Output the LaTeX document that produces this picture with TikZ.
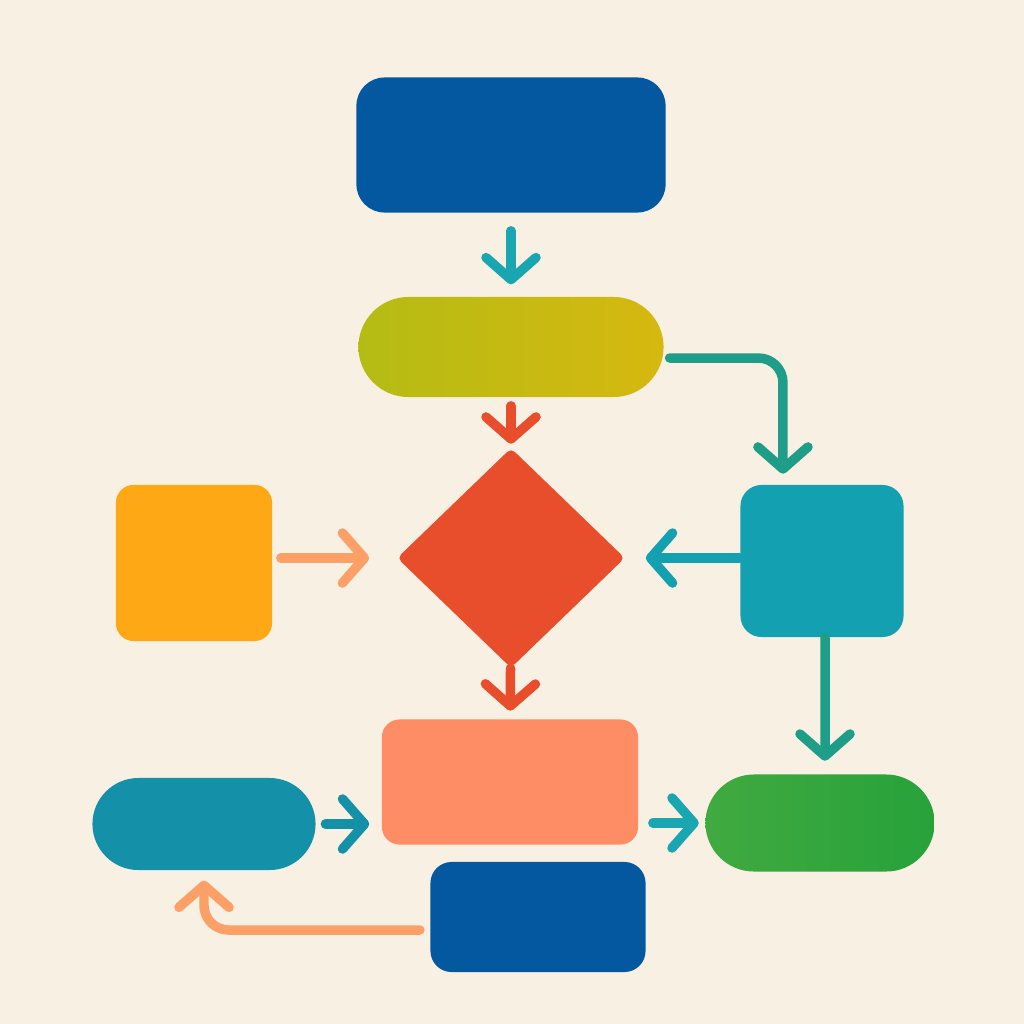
\documentclass[tikz,border=0pt]{standalone}
\usepackage{tikz}
\usetikzlibrary{arrows.meta,positioning,shapes.geometric,shapes.misc}
\definecolor{paper}{RGB}{248,240,227}
\definecolor{deepblue}{RGB}{3,88,160}
\definecolor{olive}{RGB}{180,188,20}
\definecolor{mustard}{RGB}{214,184,16}
\definecolor{tomato}{RGB}{232,78,44}
\definecolor{amber}{RGB}{253,168,20}
\definecolor{tealbox}{RGB}{19,160,176}
\definecolor{salmon}{RGB}{254,140,100}
\definecolor{petrol}{RGB}{20,144,168}
\definecolor{leaf}{RGB}{39,162,58}
\definecolor{lightleaf}{RGB}{64,170,64}
\definecolor{sea}{RGB}{30,158,136}
\definecolor{peach}{RGB}{253,160,104}
\definecolor{cyanarr}{RGB}{26,166,176}

\begin{document}
\begin{tikzpicture}[
    x=0.01cm, y=-0.01cm,
    box/.style={rectangle, draw=none, rounded corners=#1, inner sep=0pt},
    box/.default=7pt,
    pill/.style={rounded rectangle, draw=none, inner sep=0pt},
    arr/.style={line width=2.7pt, line cap=round, line join=round,
                rounded corners=7pt,
                -{Straight Barb[length=2.2mm,width=5mm,round]}}
]
% background
\path[fill=paper] (0,0) rectangle (1024,1024);

% Nodes
\node[box=8pt, fill=deepblue, minimum width=3.09cm, minimum height=1.35cm] (start) at (511,145) {};
\node[pill, left color=olive, right color=mustard, minimum width=3.05cm, minimum height=1.0cm] (stage) at (511,347) {};
\node[diamond, fill=tomato, inner sep=0pt, rounded corners=1.5pt,
      minimum width=2.28cm, minimum height=2.2cm] (check) at (511,558) {};
\node[box=5pt, fill=amber, minimum width=1.56cm, minimum height=1.56cm] (source) at (194,563) {};
\node[box=6pt, fill=tealbox, minimum width=1.63cm, minimum height=1.52cm] (side) at (822,561) {};
\node[box=5pt, fill=salmon, minimum width=2.56cm, minimum height=1.25cm] (merge) at (510,782) {};
\node[pill, fill=petrol, minimum width=2.23cm, minimum height=0.92cm] (left) at (204,824) {};
\node[pill, left color=lightleaf, right color=leaf, minimum width=2.29cm, minimum height=0.97cm] (goal) at (820,823) {};
\node[box=6pt, fill=deepblue, minimum width=2.15cm, minimum height=1.1cm] (back) at (538,917) {};

% Connectors
\draw[arr, cyanarr, shorten <=5pt, shorten >=3.4pt] (start) -- (stage);
\draw[arr, tomato, shorten <=2.3pt, shorten >=1pt] (stage) -- (check);
\draw[arr, sea, shorten <=1.5pt, shorten >=3pt] ([yshift=-0.11cm]stage.east) -| ([xshift=-0.39cm]side.north);
\draw[arr, peach, shorten <=2.3pt, shorten >=7.7pt] (source.east |- check) -- (check.west);
\draw[arr, tealbox, shorten <=0pt, shorten >=5.7pt] (side.west |- check) -- (check.east);
\draw[arr, tomato, shorten <=0pt, shorten >=2.3pt] (check) -- (merge);
\draw[arr, sea, shorten <=0pt, shorten >=3.7pt] ([xshift=0.03cm]side.south) -- ([xshift=0.05cm]goal.north);
\draw[arr, petrol, shorten <=2.6pt, shorten >=3.4pt] (left.east) -- (merge.west |- left.east);
\draw[arr, cyanarr, shorten <=4pt, shorten >=1.7pt] (merge.east |- goal) -- (goal.west);
\draw[arr, peach, shorten <=2.8pt, shorten >=2.8pt] ([yshift=-0.13cm]back.west) -| (left.south);

\end{tikzpicture}
\end{document}
